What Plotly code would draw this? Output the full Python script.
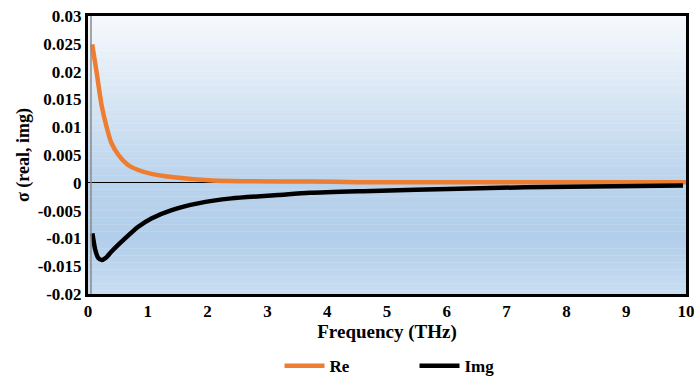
import plotly.graph_objects as go

# Data
freq_re = [0.07, 0.145, 0.23, 0.31, 0.39, 0.51, 0.67, 0.84, 1.06, 1.4, 2.07, 2.7, 3.7, 4.5, 5.5, 6.5, 7.5, 8.5, 10.0]
re_vals = [0.0249, 0.0198, 0.0138, 0.0101, 0.0072, 0.0050, 0.0032, 0.0023, 0.0016, 0.00103, 0.00041, 0.00028, 0.00022, 0.00012, 0.0001, 0.0001, 0.00009, 0.00008, 0.00008]

freq_img = [0.073, 0.12, 0.17, 0.23, 0.3, 0.39, 0.62, 0.84, 1.06, 1.4, 1.84, 2.4, 3.18, 3.71, 4.6, 5.49, 6.55, 8.05, 9.95]
img_vals = [-0.0091, -0.0120, -0.0135, -0.0139, -0.0135, -0.0124, -0.0100, -0.0079, -0.0064, -0.0049, -0.0037, -0.0028, -0.0022, -0.0018, -0.0015, -0.00126, -0.00096, -0.0007, -0.0005]

y_tickvals = [0.03, 0.025, 0.02, 0.015, 0.01, 0.005, 0, -0.005, -0.01, -0.015, -0.02]
y_ticktext = ["0.03", "0.025", "0.02", "0.015", "0.01", "0.005", "0", "-0.005", "-0.01", "-0.015", "-0.02"]
x_tickvals = [0, 1, 2, 3, 4, 5, 6, 7, 8, 9, 10]

FONT = "Times New Roman, Liberation Serif, DejaVu Serif, serif"

fig = go.Figure()
fig.add_trace(go.Scatter(x=freq_re, y=re_vals, mode="lines", name="<b>Re</b>",
                         line=dict(color="#ED7D31", width=4.5, shape="spline", smoothing=0.8)))
fig.add_trace(go.Scatter(x=freq_img, y=img_vals, mode="lines", name="<b>Img</b>",
                         line=dict(color="#000000", width=4.5, shape="spline", smoothing=0.6)))

# gradient background strips
def lerp(c1, c2, t):
    return tuple(round(a + (b - a) * t) for a, b in zip(c1, c2))

stops = [(0.0, (246, 249, 252)), (0.6, (186, 211, 236)), (0.8, (178, 206, 234)), (1.0, (200, 221, 241))]
N = 80
shapes = []
for i in range(N):
    t = (i + 0.5) / N  # from top
    for k in range(len(stops) - 1):
        if stops[k][0] <= t <= stops[k + 1][0]:
            tt = (t - stops[k][0]) / (stops[k + 1][0] - stops[k][0])
            c = lerp(stops[k][1], stops[k + 1][1], tt)
            break
    y1 = 1 - i / N
    y0 = 1 - (i + 1) / N
    shapes.append(dict(type="rect", xref="x domain", yref="y domain", x0=0, x1=1, y0=y0, y1=y1 + 0.001,
                       fillcolor="rgb(%d,%d,%d)" % c, line=dict(width=0), layer="below"))
# inner gray frame line on the left
shapes.append(dict(type="line", xref="x domain", yref="y domain", x0=0.005, x1=0.005, y0=0, y1=1,
                   line=dict(color="#8a8a8a", width=1.5), layer="above"))

fig.update_layout(
    width=694, height=376,
    margin=dict(l=88, r=8, t=16, b=82, autoexpand=False),
    paper_bgcolor="white",
    plot_bgcolor="rgba(0,0,0,0)",
    shapes=shapes,
    font=dict(family=FONT, size=17, color="black"),
    showlegend=True,
    legend=dict(orientation="h", x=0.546, xanchor="center", y=-0.26, yanchor="middle",
                font=dict(family=FONT, size=17), entrywidth=80, entrywidthmode="pixels",
                itemwidth=40, bgcolor="rgba(0,0,0,0)"),
    xaxis=dict(range=[0, 10], tickvals=x_tickvals, ticktext=["<b>%d</b>" % v for v in x_tickvals],
               showgrid=False, zeroline=False, showline=True, linecolor="black", linewidth=3, mirror=True,
               ticks="", tickfont=dict(size=17), ticklabeloverflow="allow",
               title=dict(text="<b>Frequency (THz)</b>", font=dict(family=FONT, size=19), standoff=1)),
    yaxis=dict(range=[-0.02, 0.03], tickvals=y_tickvals, ticktext=["<b>%s</b>" % s for s in y_ticktext],
               showgrid=False, zeroline=True, zerolinecolor="black", zerolinewidth=1,
               showline=True, linecolor="black", linewidth=3, mirror=True, ticks="",
               tickfont=dict(size=17),
               title=dict(text="<b>σ (real, img)</b>", font=dict(family=FONT, size=18), standoff=4)),
)

fig.write_html("out.html")
